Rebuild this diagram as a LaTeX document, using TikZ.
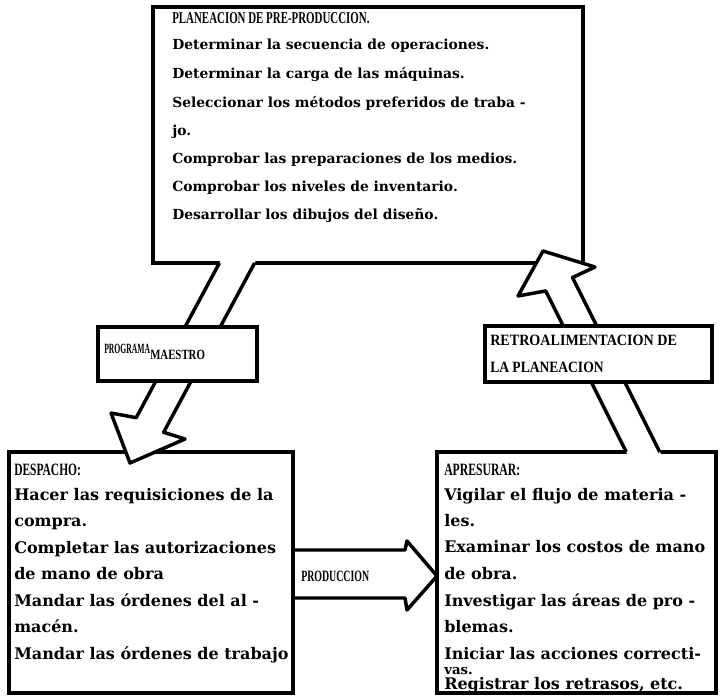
\documentclass[tikz,border=0pt]{standalone}
\usepackage{fontspec}
\usepackage{graphicx}
\usetikzlibrary{calc}
\setmainfont{DejaVu Serif}
\newfontfamily\headfont{Liberation Serif}

\tikzset{
  frame/.style={draw, line width=2.6pt, fill=white, inner sep=0pt},
  edge/.style={line width=2.6pt, line join=round},
  upper/.style={anchor=base west, inner sep=0pt, font=\fontsize{10.4}{12}\selectfont\bfseries},
  lower/.style={anchor=base west, inner sep=0pt, font=\fontsize{12}{12}\selectfont\bfseries},
  lowersmall/.style={anchor=base west, inner sep=0pt, font=\fontsize{10}{12}\selectfont\bfseries},
  headtext/.style={anchor=base west, inner sep=0pt},
}
% heading set to a given width and cap height
\newcommand{\headtxt}[3]{\resizebox{#1}{#2}{\headfont\bfseries #3}}

\begin{document}
\begin{tikzpicture}[x=0.75pt, y=-0.75pt]
\fill[white] (0,0) rectangle (725,697);
\useasboundingbox (0,0) rectangle (725,697);

% main boxes
\node[frame, minimum width=322.5pt, minimum height=192pt] (plan) at (368,135) {};
\node[frame, minimum width=213pt, minimum height=180.75pt] (desp) at (151,572.5) {};
\node[frame, minimum width=209.25pt, minimum height=180.75pt] (apre) at (576.5,572.5) {};

% block arrow: plan -> desp
\coordinate (a1f) at (222.2,257.7);
\coordinate (a1) at (219.4,263);
\coordinate (a2) at (136.2,417.7);
\coordinate (a3) at (111,413);
\coordinate (atip) at (130,463);
\coordinate (a4) at (185,439);
\coordinate (a5) at (163.6,432.3);
\coordinate (a6) at (254.6,263);
\coordinate (a6f) at (257.4,257.7);
\fill[white] (a1f) -- (a2) -- (a3) -- (atip) -- (a4) -- (a5) -- (a6f) -- cycle;
\draw[edge] (a1) -- (a2) -- (a3) -- (atip) -- (a4) -- (a5) -- (a6);

% block arrow: apre -> plan
\coordinate (b1f) at (629.2,458);
\coordinate (b1) at (626.2,452);
\coordinate (b2) at (545.7,290.9);
\coordinate (b3) at (518,296);
\coordinate (btip) at (543,251);
\coordinate (b4) at (595,267);
\coordinate (b5) at (572.5,277.5);
\coordinate (b6) at (659.8,452);
\coordinate (b6f) at (662.8,458);
\fill[white] (b1f) -- (b2) -- (b3) -- (btip) -- (b4) -- (b5) -- (b6f) -- cycle;
\draw[edge] (b1) -- (b2) -- (b3) -- (btip) -- (b4) -- (b5) -- (b6);

% block arrow: desp -> apre
\coordinate (c1) at (293,550);
\coordinate (c2) at (405,550);
\coordinate (c3) at (407,541);
\coordinate (ctip) at (437,576);
\coordinate (c4) at (407,610);
\coordinate (c5) at (405,598);
\coordinate (c6) at (293,598);
\fill[white] ($(c1)+(2,0)$) -- (c2) -- (c3) -- (ctip) -- (c4) -- (c5) -- ($(c6)+(2,0)$) -- cycle;
\draw[edge] (c1) -- (c2) -- (c3) -- (ctip) -- (c4) -- (c5) -- (c6);

% label boxes on the arrow shafts
\node[frame, minimum width=119.25pt, minimum height=40.5pt] (prog) at (177.5,354) {};
\node[frame, minimum width=170.25pt, minimum height=42pt] (retro) at (598.5,354) {};

% headings
\node[headtext] (planh) at (172,23) {\headtxt{148pt}{8.2pt}{PLANEACION DE PRE-PRODUCCION.}};
\node[headtext] (desph) at (14,475) {\headtxt{50pt}{8.6pt}{DESPACHO:}};
\node[headtext] (apreh) at (444,475) {\headtxt{57pt}{8.6pt}{APRESURAR:}};
\node[headtext] (prodh) at (301,581) {\headtxt{51pt}{7.8pt}{PRODUCCION}};
\node[headtext] (retro1) at (490,345) {\headtxt{140pt}{7.8pt}{RETROALIMENTACION DE}};
\node[headtext] (retro2) at (490,372) {\headtxt{85pt}{7.8pt}{LA PLANEACION}};
\node[headtext] (progh) at (104,353) {\headtxt{34.5pt}{7pt}{PROGRAMA}\raisebox{-5.2pt}{\headtxt{41pt}{7pt}{MAESTRO}}};

% body lines
\foreach \yy/\txt [count=\i] in {
  49/{Determinar la secuencia de operaciones.},
  78/{Determinar la carga de las máquinas.},
  107/{Seleccionar los métodos preferidos de traba -},
  135/{jo.},
  163/{Comprobar las preparaciones de los medios.},
  191/{Comprobar los niveles de inventario.},
  219/{Desarrollar los dibujos del diseño.}}
  \node[upper] (plan\i) at (172,\yy) {\txt};

\foreach \yy/\txt [count=\i] in {
  500/{Hacer las requisiciones de la},
  526/{compra.},
  553/{Completar las autorizaciones},
  579/{de mano de obra},
  606/{Mandar las órdenes del al -},
  632/{macén.},
  659/{Mandar las órdenes de trabajo}}
  \node[lower] (desp\i) at (14,\yy) {\txt};

\foreach \yy/\txt [count=\i] in {
  500/{Vigilar el flujo de materia -},
  526/{les.},
  552/{Examinar los costos de mano},
  579/{de obra.},
  606/{Investigar las áreas de pro -},
  632/{blemas.},
  659/{Iniciar las acciones correcti-}}
  \node[lower] (apre\i) at (444,\yy) {\txt};
% the last two lines are squeezed into the bottom of the box
\node[lowersmall] (apre8) at (444,674) {vas.};
\node[lower] (apre9) at (444,689) {Registrar los retrasos, etc.};
\end{tikzpicture}
\end{document}
